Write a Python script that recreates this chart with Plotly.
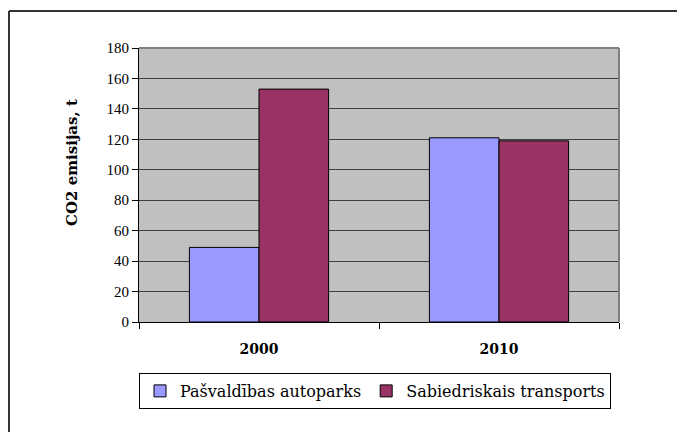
import plotly.graph_objects as go

categories = ["2000", "2010"]
series_names = ["Pašvaldības autoparks", "Sabiedriskais transports"]
pasvaldibas = [49, 121]
sabiedriskais = [153, 119]
y_ticks = [0, 20, 40, 60, 80, 100, 120, 140, 160, 180]
y_title = "CO2 emisijas, t"

colors = ["#9999FF", "#993366"]
SERIF = "Liberation Serif"
PAL = "DejaVu Serif"

fig = go.Figure()
for name, vals, c in zip(series_names, [pasvaldibas, sabiedriskais], colors):
    fig.add_trace(go.Bar(
        x=categories, y=vals, name=name,
        marker=dict(color=c, line=dict(color="#000000", width=1)),
    ))

W, H = 677, 424
OFF = 8
L, T = 139 - OFF, 48 - OFF
R = W - (619 - OFF)
B = H - (322 - OFF)
pw, ph = W - L - R, H - T - B

def px_x(px):
    return (px - OFF - L) / pw

def px_y(py):
    return (H - B - (py - OFF)) / ph

fig.update_layout(
    width=W, height=H,
    margin=dict(l=L, r=R, t=T, b=B),
    paper_bgcolor="white",
    plot_bgcolor="#C0C0C0",
    barmode="group",
    bargap=0.42, bargroupgap=0,
    font=dict(family=SERIF, color="#000000", size=14),
    showlegend=True,
    legend=dict(
        orientation="h",
        x=0, xanchor="left",
        y=px_y(373), yanchor="top",
        bordercolor="#000000", borderwidth=1,
        bgcolor="white",
        font=dict(family=PAL, size=16),
        itemwidth=30,
        traceorder="normal",
    ),
    xaxis=dict(
        type="category",
        showline=True, linecolor="#000000", linewidth=1,
        ticks="outside", tickson="boundaries", ticklen=6, tickcolor="#000000",
        tickfont=dict(family=PAL, size=14, weight="bold"),
        ticklabelstandoff=14,
        showgrid=False,
        zeroline=False,
    ),
    yaxis=dict(
        range=[0, 180],
        tickvals=y_ticks,
        showline=True, linecolor="#000000", linewidth=1,
        ticks="outside", ticklen=6, tickcolor="#000000",
        tickfont=dict(family=SERIF, size=15),
        showgrid=True, gridcolor="#404040", gridwidth=1,
        zeroline=False,
    ),
    annotations=[
        dict(text=y_title, textangle=-90, xref="paper", yref="paper",
             x=px_x(72), y=px_y(163), xanchor="center", yanchor="middle",
             showarrow=False, font=dict(family=PAL, size=15, weight="bold")),
    ],
    shapes=[
        dict(type="line", xref="paper", yref="paper", x0=0, x1=1, y0=1, y1=1,
             line=dict(color="#808080", width=2), layer="above"),
        dict(type="line", xref="paper", yref="paper", x0=1, x1=1, y0=0, y1=1,
             line=dict(color="#808080", width=2), layer="above"),
        dict(type="line", xref="paper", yref="paper", x0=px_x(9), x1=px_x(9), y0=px_y(11), y1=px_y(440),
             line=dict(color="#333333", width=2)),
        dict(type="line", xref="paper", yref="paper", x0=px_x(9), x1=px_x(690), y0=px_y(11), y1=px_y(11),
             line=dict(color="#333333", width=2)),
    ],
)

fig.write_html("out.html")
